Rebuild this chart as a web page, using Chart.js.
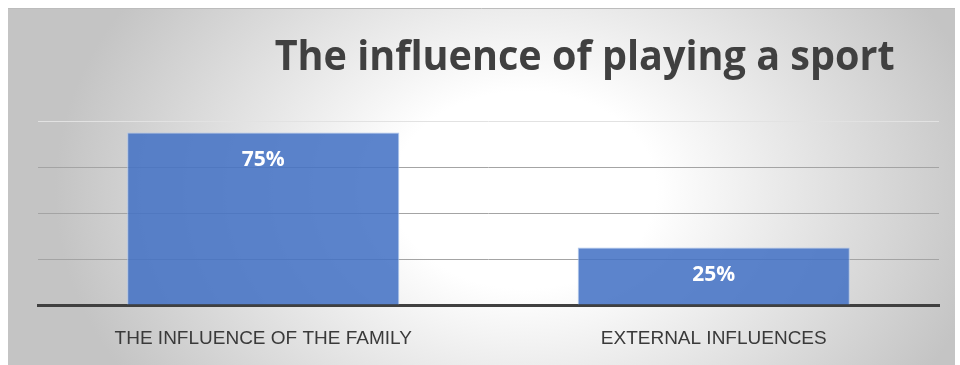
<!DOCTYPE html>
<html>
<head>
<meta charset="utf-8">
<script src="https://cdn.jsdelivr.net/npm/chart.js@4.4.1/dist/chart.umd.min.js"></script>
<style>
  html, body { margin: 0; padding: 0; background: #fff; }
  #wrap { width: 960px; height: 365px; position: relative; }
</style>
</head>
<body>
<div id="wrap"><canvas id="chartBar" width="960" height="365"></canvas></div>
<script>
const chartTitle = "The influence of playing a sport";
const categories = ["THE INFLUENCE OF THE FAMILY", "EXTERNAL INFLUENCES"];
const shares = [75, 25];
const yMin = 0, yMax = 80, yStep = 20;

// gray-to-white backdrop like the office chart area
const backdrop = {
  id: "backdrop",
  beforeDraw(chart) {
    const { ctx, width, height } = chart;
    ctx.save();
    ctx.fillStyle = "#fff";
    ctx.fillRect(0, 0, width, height);
    const x0 = 8, y0 = 8, x1 = 955, y1 = height;
    ctx.beginPath();
    ctx.rect(x0, y0, x1 - x0, y1 - y0);
    ctx.clip();
    ctx.translate(525, 190);
    ctx.scale(1, 0.75);
    const g = ctx.createRadialGradient(0, 0, 0, 0, 0, 470);
    g.addColorStop(0, "#ffffff");
    g.addColorStop(0.28, "#ffffff");
    g.addColorStop(1, "#c4c4c4");
    ctx.fillStyle = g;
    ctx.fillRect(-600, -400, 1200, 800);
    ctx.restore();
    ctx.save();
    ctx.strokeStyle = "#bcbcbc";
    ctx.lineWidth = 1;
    ctx.beginPath();
    ctx.moveTo(x0, y0 + 0.5);
    ctx.lineTo(x1, y0 + 0.5);
    ctx.stroke();
    ctx.restore();
  }
};

const titleText = {
  id: "titleText",
  afterDraw(chart) {
    const ctx = chart.ctx;
    ctx.save();
    ctx.font = "bold 42px 'Open Sans'";
    ctx.fillStyle = "#404040";
    ctx.textAlign = "center";
    ctx.textBaseline = "alphabetic";
    ctx.fillText(chartTitle, chart.width * 0.609, 70, 620);
    ctx.restore();
  }
};

// value labels inside the top of each bar
const barLabels = {
  id: "barLabels",
  afterDatasetsDraw(chart) {
    const ctx = chart.ctx;
    const meta = chart.getDatasetMeta(0);
    ctx.save();
    ctx.font = "bold 21px 'Open Sans'";
    ctx.fillStyle = "#fff";
    ctx.textAlign = "center";
    ctx.textBaseline = "middle";
    meta.data.forEach((bar, i) => {
      ctx.fillText(shares[i] + "%", bar.x, bar.y + 28);
    });
    ctx.restore();
  }
};

const ctx = document.getElementById("chartBar").getContext("2d");
new Chart(ctx, {
  type: "bar",
  data: {
    labels: categories,
    datasets: [{
      data: shares,
      backgroundColor: "rgba(68,114,196,0.87)",
      borderColor: "rgba(170,195,235,0.9)",
      borderWidth: 1,
      barPercentage: 0.604,
      categoryPercentage: 1
    }]
  },
  options: {
    responsive: false,
    maintainAspectRatio: false,
    animation: false,
    layout: { padding: { top: 121, left: 38, right: 21, bottom: 0 } },
    plugins: { legend: { display: false }, title: { display: false }, tooltip: { enabled: false } },
    scales: {
      x: {
        z: 1,
        grid: { display: false },
        border: { display: true, color: "#404040", width: 3 },
        ticks: { color: "#3a3a3a", font: { family: "'Liberation Sans Narrow', 'Liberation Sans'", size: 19 }, padding: 14 },
        afterFit(scale) { scale.height = 60; }
      },
      y: {
        min: yMin,
        max: yMax,
        ticks: { display: false, stepSize: yStep },
        border: { display: false },
        grid: {
          drawTicks: false,
          color: c => c.tick && c.tick.value === yMax ? "#e2e2e2" : "#a4a4a4",
          lineWidth: 1
        },
        afterFit(scale) { scale.width = 0; }
      }
    }
  },
  plugins: [backdrop, titleText, barLabels]
});
</script>
</body>
</html>
